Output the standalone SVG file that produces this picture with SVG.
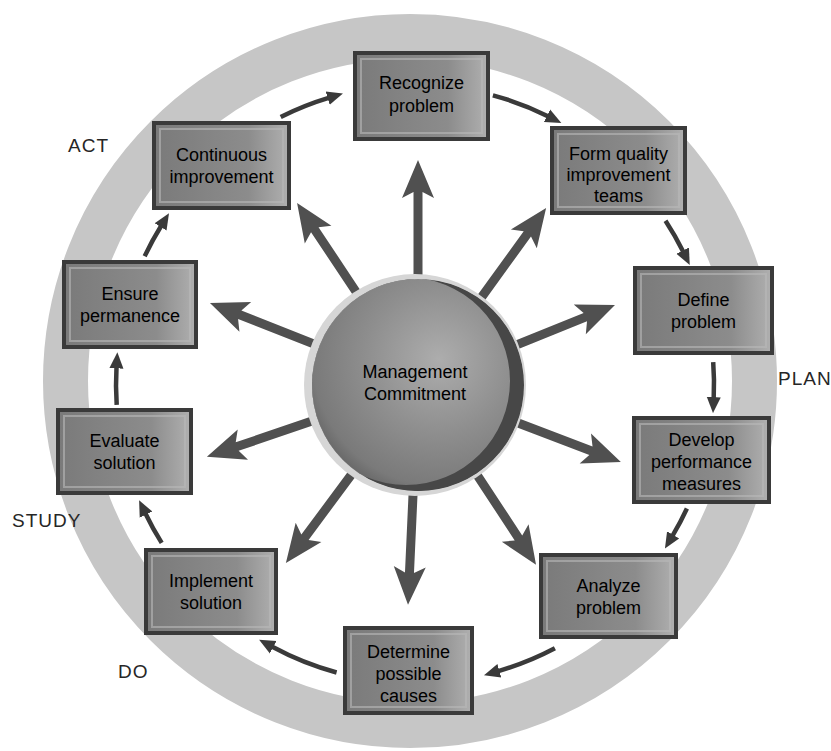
<svg xmlns="http://www.w3.org/2000/svg" xmlns:xlink="http://www.w3.org/1999/xlink" width="831" height="751" viewBox="0 0 831 751">
<style>
  .box { fill: url(#boxGrad); stroke: #3a3a3a; stroke-width: 4; }
  .bevel { fill: none; stroke: #b9b9b9; stroke-width: 2; opacity: 0.6; }
  .bt { font-family: "Liberation Sans", Arial, sans-serif; font-size: 18px; fill: #000000; text-anchor: middle; }
  .lbl { font-family: "Liberation Sans", Arial, sans-serif; font-size: 19px; fill: #262626; letter-spacing: 1px; }
  .cyc { fill: none; stroke: #3a3a3a; stroke-width: 4.5; marker-end: url(#head); }
  .ca { fill: #505050; }
</style>
<defs>
  <linearGradient id="boxGrad" x1="0" y1="0" x2="1" y2="0">
    <stop offset="0" stop-color="#7a7a7a"/>
    <stop offset="0.7" stop-color="#8c8c8c"/>
    <stop offset="1" stop-color="#b0b0b0"/>
  </linearGradient>
  <radialGradient id="sphereGrad" cx="0.6" cy="0.38" r="0.7">
    <stop offset="0" stop-color="#adadad"/>
    <stop offset="0.5" stop-color="#8e8e8e"/>
    <stop offset="0.85" stop-color="#7a7a7a"/>
    <stop offset="1" stop-color="#5e5e5e"/>
  </radialGradient>
  <clipPath id="sphereClip">
    <circle cx="418" cy="385" r="106"/>
  </clipPath>
  <marker id="head" markerUnits="userSpaceOnUse" markerWidth="16" markerHeight="16" viewBox="0 0 16 16" refX="1" refY="8" orient="auto">
    <path d="M0,1 L16,8 L0,15 Z" fill="#3a3a3a"/>
  </marker>
  <path id="ca" class="ca" d="M95,-4.5 H188 L182,-16 L220,0 L182,16 L188,4.5 H95 Z"/>
</defs>
<rect width="831" height="751" fill="#ffffff"/>

<!-- outer ring -->
<circle cx="410" cy="381" r="344.5" fill="none" stroke="#c6c6c6" stroke-width="45"/>

<g id="connectors">
  <!-- radial arrows from Management Commitment -->
  <use xlink:href="#ca" transform="translate(418,385) rotate(-90) translate(5,0)"/>
  <use xlink:href="#ca" transform="translate(418,385) rotate(-123.6) translate(-1.5,0)"/>
  <use xlink:href="#ca" transform="translate(418,385) rotate(-54.1) translate(-1.5,0)"/>
  <use xlink:href="#ca" transform="translate(418,385) rotate(-158.5) translate(3.6,0)"/>
  <use xlink:href="#ca" transform="translate(418,385) rotate(-22.1) translate(-7.4,0)"/>
  <use xlink:href="#ca" transform="translate(418,385) rotate(161.2) translate(3,0)"/>
  <use xlink:href="#ca" transform="translate(418,385) rotate(20.8) translate(-3,0)"/>
  <use xlink:href="#ca" transform="translate(418,385) rotate(126.6) translate(1.6,0)"/>
  <use xlink:href="#ca" transform="translate(418,385) rotate(92.6)"/>
  <use xlink:href="#ca" transform="translate(418,385) rotate(56.7) translate(-5,0)"/>
  <!-- cycle arrows -->
  <path class="cyc" d="M280.7,116.9 A299,299 0 0 1 328.6,97.8"/>
  <path class="cyc" d="M492.9,95.3 A299,299 0 0 1 547.9,116.2"/>
  <path class="cyc" d="M665.5,220.7 A299,299 0 0 1 683.1,251.5"/>
  <path class="cyc" d="M713.2,362.1 A299,299 0 0 1 713.7,398.1"/>
  <path class="cyc" d="M686.9,508.5 A299,299 0 0 1 672.6,535.7"/>
  <path class="cyc" d="M554.9,648.3 A299,299 0 0 1 498.4,671.1"/>
  <path class="cyc" d="M336.6,672.5 A299,299 0 0 1 272.3,646.8"/>
  <path class="cyc" d="M161.7,542.9 A299,299 0 0 1 145.6,513.7"/>
  <path class="cyc" d="M116.7,404.9 A299,299 0 0 1 116.5,367.3"/>
  <path class="cyc" d="M144.7,256.2 A299,299 0 0 1 161.1,226.0"/>
</g>

<g id="management-commitment">
  <circle cx="415" cy="385" r="111" fill="#d6d6d6"/>
  <circle cx="418" cy="385" r="106" fill="url(#sphereGrad)"/>
  <path clip-path="url(#sphereClip)" fill-rule="evenodd" fill="#474747"
        d="M312,385 A106,106 0 1 0 524,385 A106,106 0 1 0 312,385 Z M302,381 A104,104 0 1 0 510,381 A104,104 0 1 0 302,381 Z"/>
  <text class="bt" x="415" y="378">Management</text>
  <text class="bt" x="415" y="400">Commitment</text>
</g>

<g id="recognize-problem">
  <rect class="box" x="355" y="53" width="133" height="86"/>
  <rect class="bevel" x="361" y="59" width="121" height="74"/>
  <text class="bt" x="421.5" y="89">Recognize</text>
  <text class="bt" x="421.5" y="112">problem</text>
</g>
<g id="form-quality-improvement-teams">
  <rect class="box" x="552" y="128" width="133" height="85"/>
  <rect class="bevel" x="558" y="134" width="121" height="73"/>
  <text class="bt" x="618.5" y="160">Form quality</text>
  <text class="bt" x="618.5" y="181">improvement</text>
  <text class="bt" x="618.5" y="202">teams</text>
</g>
<g id="continuous-improvement">
  <rect class="box" x="154" y="123" width="135" height="85"/>
  <rect class="bevel" x="160" y="129" width="123" height="73"/>
  <text class="bt" x="221.5" y="161">Continuous</text>
  <text class="bt" x="221.5" y="183">improvement</text>
</g>
<g id="ensure-permanence">
  <rect class="box" x="64" y="262" width="132" height="85"/>
  <rect class="bevel" x="70" y="268" width="120" height="73"/>
  <text class="bt" x="130" y="299.5">Ensure</text>
  <text class="bt" x="130" y="321.5">permanence</text>
</g>
<g id="define-problem">
  <rect class="box" x="635" y="268" width="137" height="85"/>
  <rect class="bevel" x="641" y="274" width="125" height="73"/>
  <text class="bt" x="703.5" y="305.5">Define</text>
  <text class="bt" x="703.5" y="327.5">problem</text>
</g>
<g id="evaluate-solution">
  <rect class="box" x="58" y="410" width="133" height="83"/>
  <rect class="bevel" x="64" y="416" width="121" height="71"/>
  <text class="bt" x="124.5" y="446.5">Evaluate</text>
  <text class="bt" x="124.5" y="468.5">solution</text>
</g>
<g id="develop-performance-measures">
  <rect class="box" x="634" y="418" width="135" height="84"/>
  <rect class="bevel" x="640" y="424" width="123" height="72"/>
  <text class="bt" x="701.5" y="446">Develop</text>
  <text class="bt" x="701.5" y="468">performance</text>
  <text class="bt" x="701.5" y="490">measures</text>
</g>
<g id="implement-solution">
  <rect class="box" x="146" y="550" width="130" height="83"/>
  <rect class="bevel" x="152" y="556" width="118" height="71"/>
  <text class="bt" x="211" y="586.5">Implement</text>
  <text class="bt" x="211" y="608.5">solution</text>
</g>
<g id="analyze-problem">
  <rect class="box" x="541" y="555" width="135" height="82"/>
  <rect class="bevel" x="547" y="561" width="123" height="70"/>
  <text class="bt" x="608.5" y="592">Analyze</text>
  <text class="bt" x="608.5" y="614">problem</text>
</g>
<g id="determine-possible-causes">
  <rect class="box" x="345" y="628" width="127" height="85"/>
  <rect class="bevel" x="351" y="634" width="115" height="73"/>
  <text class="bt" x="408.5" y="658">Determine</text>
  <text class="bt" x="408.5" y="680">possible</text>
  <text class="bt" x="408.5" y="702">causes</text>
</g>

<g id="phase-labels">
  <text class="lbl" x="68" y="152">ACT</text>
  <text class="lbl" x="778" y="385">PLAN</text>
  <text class="lbl" x="12" y="527">STUDY</text>
  <text class="lbl" x="118" y="678">DO</text>
</g>
</svg>
